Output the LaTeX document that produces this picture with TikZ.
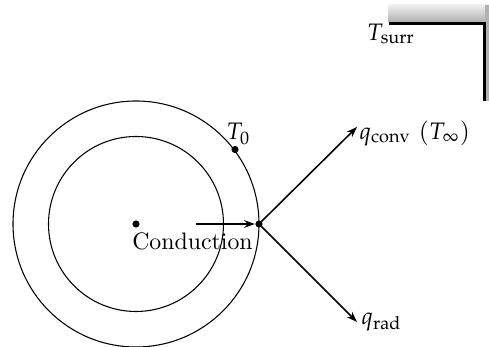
\documentclass[tikz,border=0pt]{standalone}
\usepackage{mathpazo}
\usetikzlibrary{arrows.meta}
\begin{document}
\begin{tikzpicture}[x=0.42pt,y=-0.42pt,
  dotnode/.style={circle,fill=black,inner sep=0pt,minimum size=3pt},
  ring/.style={draw=black,line width=0.45pt},
  flow/.style={line width=0.65pt,-{Stealth[length=4.5pt,width=3.2pt]}},
  wall/.style={line width=1.2pt,draw=black},
  lbl/.style={inner sep=0pt}]
\useasboundingbox (0,0) rectangle (489,347);
% surroundings
\shade[top color=gray!12,bottom color=gray!62] (388,5) rectangle (489,22);
\fill[gray!60] (485,5) rectangle (489,101);
\coordinate (w1) at (389,23.5);
\coordinate (w2) at (484.5,23.5);
\coordinate (w3) at (484.5,101);
\draw[wall] (w1) -- (w2) -- (w3);
\node[lbl] (tsurr) at (391,34) {$T_{\mathrm{surr}}$};
% circles
\coordinate (c) at (136,224);
\draw[ring] (c) circle [radius=51.66pt];
\draw[ring] (c) circle [radius=36.75pt];
\node[dotnode] (center) at (136,224) {};
\node[dotnode] (surf) at (259,224) {};
\node[dotnode] (t0dot) at (235,149.5) {};
\node[lbl] (t0) at (238.5,134) {$T_0$};
\node[lbl,anchor=base] (cond) at (192.5,250) {Conduction};
\coordinate (cstart) at (196,224);
\draw[flow] (cstart) -- (surf);
% outgoing
\node[lbl,anchor=west] (qconv) at (359,133) {$q_{\mathrm{conv}}\ (T_\infty)$};
\node[lbl,anchor=west] (qrad) at (361,322) {$q_{\mathrm{rad}}$};
\coordinate (convtip) at (357,127);
\coordinate (radtip) at (357,322);
\draw[flow] (surf.center) -- (convtip);
\draw[flow] (surf.center) -- (radtip);
\end{tikzpicture}
\end{document}
